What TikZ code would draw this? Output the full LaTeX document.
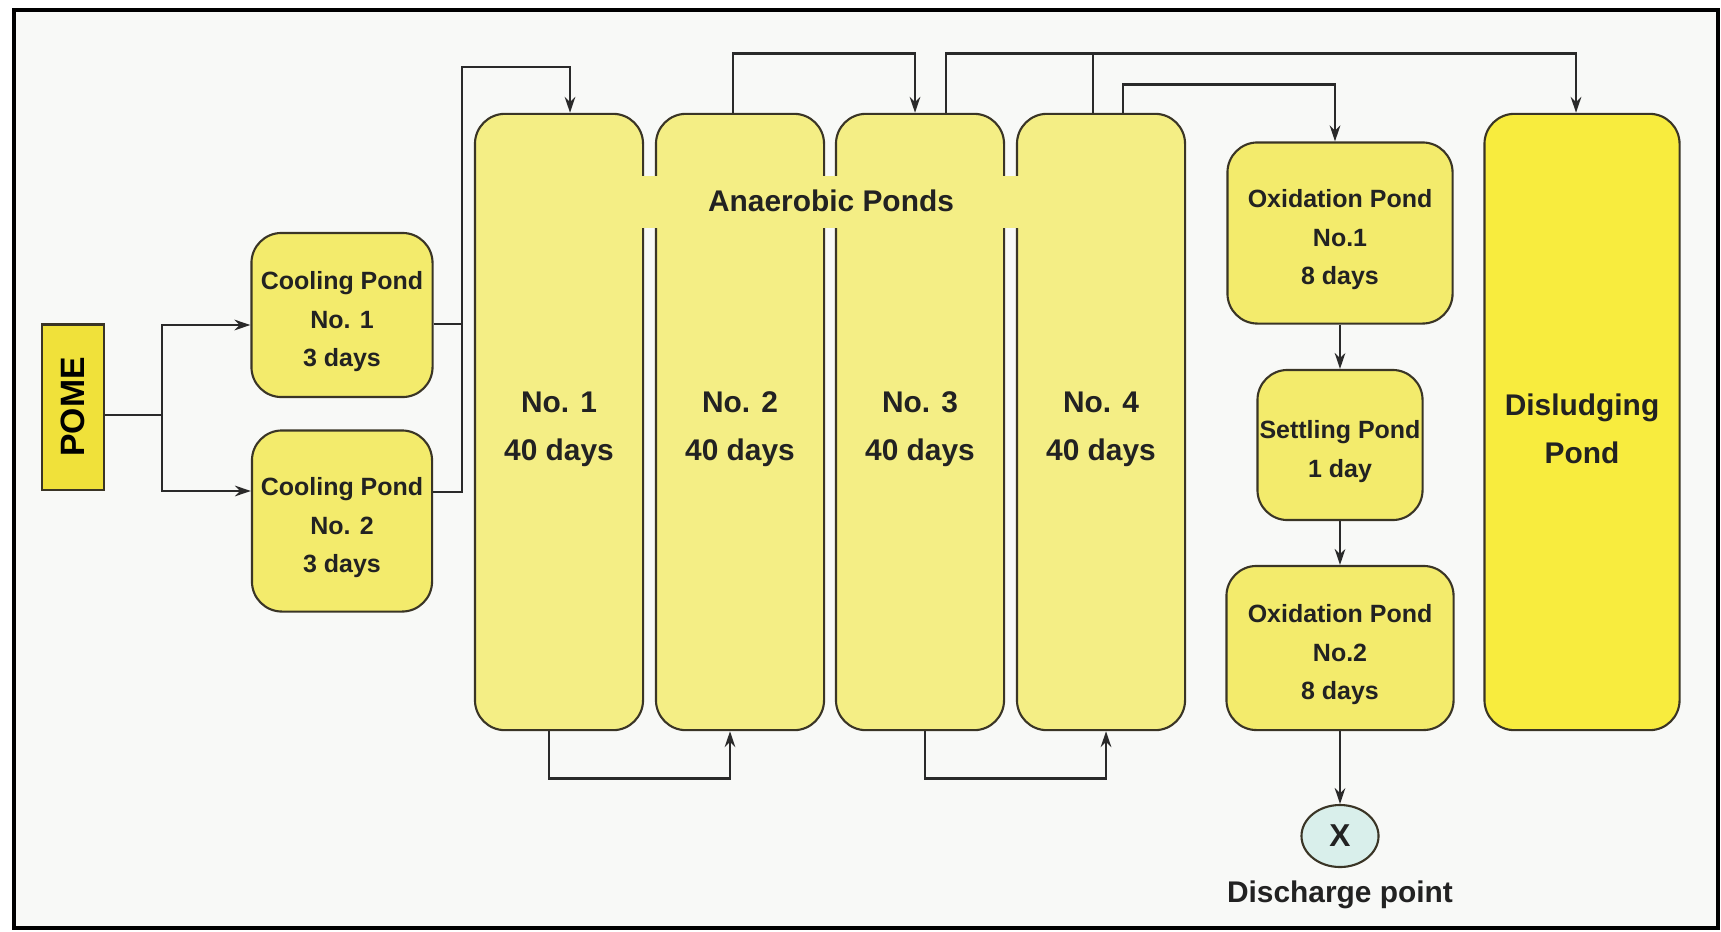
\documentclass[tikz,border=0pt]{standalone}
\usepackage{fontspec}
\setmainfont{Liberation Sans}
\usetikzlibrary{arrows.meta,shapes.geometric}

\definecolor{anayellow}{HTML}{F4EE85}
\definecolor{poolyellow}{HTML}{F3EB6C}
\definecolor{disyellow}{HTML}{F8EC3E}
\definecolor{pomeyellow}{HTML}{F0E13A}
\definecolor{outcyan}{HTML}{D9EFEB}
\definecolor{bgcol}{HTML}{F8F9F7}
\definecolor{pondedge}{HTML}{3A3526}
\definecolor{pipecol}{HTML}{2A2A2A}
\definecolor{textcol}{HTML}{222222}

\def\ll{0.01}
\newcommand{\smalltxt}{\fontsize{7.1}{11}\selectfont\bfseries}
\newcommand{\bigtxt}{\fontsize{8.5}{13.7}\selectfont\bfseries}

\begin{document}
\begin{tikzpicture}[
  pond/.style={draw=pondedge, line width=0.6pt, rounded corners=0.3cm, align=center, inner sep=0pt, text=textcol},
  anapond/.style={pond, fill=anayellow, minimum width=1.68cm, minimum height=6.16cm, font=\bigtxt, text height=23.5pt},
  smallpond/.style={pond, fill=poolyellow, font=\smalltxt, text height=31pt},
  pomebox/.style={draw=pondedge, line width=0.6pt, fill=pomeyellow, rotate=90, inner sep=0pt,
    minimum width=1.65cm, minimum height=0.62cm, font=\fontsize{9.6}{12}\selectfont\bfseries},
  pipe/.style={draw=pipecol, line width=0.8pt},
  flowarrow/.style={pipe, -{Stealth[length=4.5pt,width=3pt]}}
]
\useasboundingbox (0,0) rectangle (1721*\ll,-931*\ll);
\draw[fill=bgcol, line width=0.9pt] (14*\ll,-10*\ll) rectangle (1718*\ll,-928*\ll);

% feed and cooling
\node[pomebox] (pome) at ( 73*\ll,-407*\ll) {POME};
\node[smallpond, minimum width=1.81cm, minimum height=1.64cm] (cool1) at (342*\ll,-315*\ll) {Cooling Pond\\No. 1\\3 days};
\node[smallpond, minimum width=1.80cm, minimum height=1.81cm] (cool2) at (342*\ll,-521*\ll) {Cooling Pond\\No. 2\\3 days};

% anaerobic ponds
\node[anapond] (an1) at ( 559*\ll,-422*\ll) {No. 1\\40 days};
\node[anapond] (an2) at ( 740*\ll,-422*\ll) {No. 2\\40 days};
\node[anapond] (an3) at ( 920*\ll,-422*\ll) {No. 3\\40 days};
\node[anapond] (an4) at (1101*\ll,-422*\ll) {No. 4\\40 days};
\fill[anayellow] (640*\ll,-176*\ll) rectangle (1020*\ll,-228*\ll);
\node[font=\bigtxt, text=textcol] (analbl) at (831*\ll,-201*\ll) {Anaerobic Ponds};

% oxidation, settling, desludging
\node[smallpond, minimum width=2.25cm, minimum height=1.81cm] (ox1) at (1340*\ll,-233*\ll) {Oxidation Pond\\No.1\\8 days};
\node[smallpond, minimum width=1.65cm, minimum height=1.50cm, text height=20pt] (settle) at (1340*\ll,-445*\ll) {Settling Pond\\1 day};
\node[smallpond, minimum width=2.27cm, minimum height=1.64cm] (ox2) at (1340*\ll,-648*\ll) {Oxidation Pond\\No.2\\8 days};
\node[pond, fill=disyellow, minimum width=1.95cm, minimum height=6.16cm, font=\bigtxt, text height=23.5pt] (dis) at (1582*\ll,-422*\ll) {Disludging\\Pond};
\node[ellipse, draw=pondedge, line width=0.6pt, fill=outcyan, inner sep=0pt, minimum width=0.77cm, minimum height=0.62cm,
  font=\fontsize{9}{11}\selectfont\bfseries, text=textcol] (out) at (1340*\ll,-836*\ll) {X};
\node[font=\bigtxt, text=textcol] (outlbl) at (1340*\ll,-895*\ll) {Discharge point};

% connectors
\coordinate (split) at (162*\ll,-415*\ll);
\coordinate (merge) at (462*\ll,-67*\ll);
\draw[pipe] (pome.south |- split) -- (split);
\draw[flowarrow] (split) |- ([yshift=-0.1cm]cool1.west);
\draw[flowarrow] (split) |- ([yshift=0.3cm]cool2.west);
\draw[pipe] ([yshift=-0.09cm]cool1.east) -| (merge);
\draw[flowarrow] ([yshift=0.29cm]cool2.east) -| (merge) -| ([xshift=0.11cm]an1.north);

\draw[flowarrow] ([xshift=-0.07cm]an2.north) -- ++(0,0.59) -| ([xshift=-0.05cm]an3.north);
\draw[flowarrow] ([xshift=0.26cm]an3.north) -- ++(0,0.59) -| ([xshift=-0.06cm]dis.north);
\draw[pipe] ([xshift=-0.08cm]an4.north) -- ++(0,0.59);
\draw[flowarrow] ([xshift=0.22cm]an4.north) -- ++(0,0.28) -| ([xshift=-0.05cm]ox1.north);

\draw[flowarrow] ([xshift=-0.1cm]an1.south) -- ++(0,-0.47) -| ([xshift=-0.1cm]an2.south);
\draw[flowarrow] ([xshift=0.05cm]an3.south) -- ++(0,-0.47) -| ([xshift=0.05cm]an4.south);

\draw[flowarrow] (ox1) -- (settle);
\draw[flowarrow] (settle) -- (ox2);
\draw[flowarrow] (ox2) -- (out);
\end{tikzpicture}
\end{document}
